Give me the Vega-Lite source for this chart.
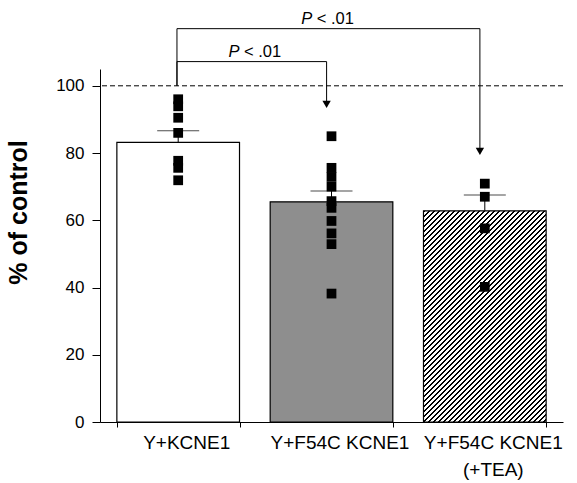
{
 "$schema": "https://vega.github.io/schema/vega-lite/v6.json",
 "width": 463,
 "height": 353,
 "autosize": {"type": "none"},
 "padding": {"left": 100, "top": 69, "right": 14, "bottom": 61},
 "background": "white",
 "config": {
  "view": {"stroke": null},
  "font": "Liberation Sans",
  "axis": {"grid": false, "domainColor": "black", "tickColor": "black", "labelColor": "black", "titleColor": "black", "labelFont": "Liberation Sans", "titleFont": "Liberation Sans", "domainWidth": 1, "tickWidth": 1}
 },
 "datasets": {
  "bars": [
   {"group": "Y+KCNE1", "mean": 83.2, "upper": 86.6},
   {"group": "Y+F54C KCNE1", "mean": 65.5, "upper": 68.7},
   {"group": "Y+F54C KCNE1 (+TEA)", "mean": 62.8, "upper": 67.5}
  ],
  "points": [
   {"group": "Y+KCNE1", "value": 96.0},
   {"group": "Y+KCNE1", "value": 93.9},
   {"group": "Y+KCNE1", "value": 90.5},
   {"group": "Y+KCNE1", "value": 86.0},
   {"group": "Y+KCNE1", "value": 77.7},
   {"group": "Y+KCNE1", "value": 75.6},
   {"group": "Y+KCNE1", "value": 71.9},
   {"group": "Y+F54C KCNE1", "value": 85.0},
   {"group": "Y+F54C KCNE1", "value": 75.6},
   {"group": "Y+F54C KCNE1", "value": 72.9},
   {"group": "Y+F54C KCNE1", "value": 70.0},
   {"group": "Y+F54C KCNE1", "value": 65.7},
   {"group": "Y+F54C KCNE1", "value": 63.7},
   {"group": "Y+F54C KCNE1", "value": 59.8},
   {"group": "Y+F54C KCNE1", "value": 56.1},
   {"group": "Y+F54C KCNE1", "value": 52.9},
   {"group": "Y+F54C KCNE1", "value": 38.2},
   {"group": "Y+F54C KCNE1 (+TEA)", "value": 70.9},
   {"group": "Y+F54C KCNE1 (+TEA)", "value": 67.0},
   {"group": "Y+F54C KCNE1 (+TEA)", "value": 57.6},
   {"group": "Y+F54C KCNE1 (+TEA)", "value": 40.2}
  ],
  "brackets": [
   {"id": 1, "from": "Y+KCNE1", "to": "Y+F54C KCNE1", "base": 100, "level": 107.2, "tip": 94.5, "label": "< .01"},
   {"id": 2, "from": "Y+KCNE1", "to": "Y+F54C KCNE1 (+TEA)", "base": 100, "level": 117.0, "tip": 80.5, "label": "< .01"}
  ],
  "control": [{"level": 100}]
 },
 "layer": [
  {
   "data": {"name": "bars"},
   "mark": {"type": "bar", "stroke": "black", "strokeWidth": 1.2},
   "encoding": {
    "x": {
     "field": "group", "type": "nominal",
     "scale": {"domain": ["Y+KCNE1", "Y+F54C KCNE1", "Y+F54C KCNE1 (+TEA)"], "paddingInner": 0.2, "paddingOuter": 0.11},
     "axis": {
      "title": null, "tickBand": "extent", "tickSize": 5, "labelFontSize": 19, "labelPadding": 6, "labelAngle": 0,
      "labelLineHeight": 27, "labelOverlap": false, "labelLimit": 300, "labelOffset": 8,
      "labelExpr": "datum.value === 'Y+F54C KCNE1 (+TEA)' ? ['Y+F54C KCNE1', '(+TEA)'] : datum.label"
     }
    },
    "y": {
     "field": "mean", "type": "quantitative",
     "scale": {"domain": [0, 105], "nice": false},
     "axis": {
      "title": "% of control", "values": [0, 10, 20, 30, 40, 50, 60, 70, 80, 90, 100],
      "labelExpr": "datum.value % 20 === 0 ? datum.label : ''",
      "tickSize": {"condition": {"test": "datum.value % 20 === 0", "value": 8}, "value": 4},
      "labelFontSize": 17, "labelPadding": 8,
      "titleFontSize": 25, "titleFontWeight": "bold", "titleAngle": -90,
      "titleX": -74, "titleY": 143, "titleAlign": "center", "titleBaseline": "alphabetic"
     }
    },
    "fill": {
     "condition": {
      "test": "datum.group === 'Y+F54C KCNE1 (+TEA)'",
      "value": {"gradient": "linear", "x1": 0, "y1": 0, "x2": 0.687, "y2": 1.182, "stops": [
{"offset":0,"color":"#000"},{"offset":0.005,"color":"#000"},{"offset":0.005,"color":"#fff"},{"offset":0.015,"color":"#fff"},
{"offset":0.015,"color":"#000"},{"offset":0.02,"color":"#000"},{"offset":0.02,"color":"#fff"},{"offset":0.03,"color":"#fff"},
{"offset":0.03,"color":"#000"},{"offset":0.035,"color":"#000"},{"offset":0.035,"color":"#fff"},{"offset":0.045,"color":"#fff"},
{"offset":0.045,"color":"#000"},{"offset":0.05,"color":"#000"},{"offset":0.05,"color":"#fff"},{"offset":0.06,"color":"#fff"},
{"offset":0.06,"color":"#000"},{"offset":0.065,"color":"#000"},{"offset":0.065,"color":"#fff"},{"offset":0.075,"color":"#fff"},
{"offset":0.075,"color":"#000"},{"offset":0.08,"color":"#000"},{"offset":0.08,"color":"#fff"},{"offset":0.09,"color":"#fff"},
{"offset":0.09,"color":"#000"},{"offset":0.095,"color":"#000"},{"offset":0.095,"color":"#fff"},{"offset":0.105,"color":"#fff"},
{"offset":0.105,"color":"#000"},{"offset":0.11,"color":"#000"},{"offset":0.11,"color":"#fff"},{"offset":0.12,"color":"#fff"},
{"offset":0.12,"color":"#000"},{"offset":0.125,"color":"#000"},{"offset":0.125,"color":"#fff"},{"offset":0.135,"color":"#fff"},
{"offset":0.135,"color":"#000"},{"offset":0.14,"color":"#000"},{"offset":0.14,"color":"#fff"},{"offset":0.15,"color":"#fff"},
{"offset":0.15,"color":"#000"},{"offset":0.155,"color":"#000"},{"offset":0.155,"color":"#fff"},{"offset":0.165,"color":"#fff"},
{"offset":0.165,"color":"#000"},{"offset":0.17,"color":"#000"},{"offset":0.17,"color":"#fff"},{"offset":0.18,"color":"#fff"},
{"offset":0.18,"color":"#000"},{"offset":0.185,"color":"#000"},{"offset":0.185,"color":"#fff"},{"offset":0.195,"color":"#fff"},
{"offset":0.195,"color":"#000"},{"offset":0.2,"color":"#000"},{"offset":0.2,"color":"#fff"},{"offset":0.21,"color":"#fff"},
{"offset":0.21,"color":"#000"},{"offset":0.215,"color":"#000"},{"offset":0.215,"color":"#fff"},{"offset":0.225,"color":"#fff"},
{"offset":0.225,"color":"#000"},{"offset":0.23,"color":"#000"},{"offset":0.23,"color":"#fff"},{"offset":0.24,"color":"#fff"},
{"offset":0.24,"color":"#000"},{"offset":0.245,"color":"#000"},{"offset":0.245,"color":"#fff"},{"offset":0.255,"color":"#fff"},
{"offset":0.255,"color":"#000"},{"offset":0.26,"color":"#000"},{"offset":0.26,"color":"#fff"},{"offset":0.27,"color":"#fff"},
{"offset":0.27,"color":"#000"},{"offset":0.275,"color":"#000"},{"offset":0.275,"color":"#fff"},{"offset":0.285,"color":"#fff"},
{"offset":0.285,"color":"#000"},{"offset":0.29,"color":"#000"},{"offset":0.29,"color":"#fff"},{"offset":0.3,"color":"#fff"},
{"offset":0.3,"color":"#000"},{"offset":0.305,"color":"#000"},{"offset":0.305,"color":"#fff"},{"offset":0.315,"color":"#fff"},
{"offset":0.315,"color":"#000"},{"offset":0.32,"color":"#000"},{"offset":0.32,"color":"#fff"},{"offset":0.33,"color":"#fff"},
{"offset":0.33,"color":"#000"},{"offset":0.335,"color":"#000"},{"offset":0.335,"color":"#fff"},{"offset":0.345,"color":"#fff"},
{"offset":0.345,"color":"#000"},{"offset":0.35,"color":"#000"},{"offset":0.35,"color":"#fff"},{"offset":0.36,"color":"#fff"},
{"offset":0.36,"color":"#000"},{"offset":0.365,"color":"#000"},{"offset":0.365,"color":"#fff"},{"offset":0.375,"color":"#fff"},
{"offset":0.375,"color":"#000"},{"offset":0.38,"color":"#000"},{"offset":0.38,"color":"#fff"},{"offset":0.39,"color":"#fff"},
{"offset":0.39,"color":"#000"},{"offset":0.395,"color":"#000"},{"offset":0.395,"color":"#fff"},{"offset":0.405,"color":"#fff"},
{"offset":0.405,"color":"#000"},{"offset":0.41,"color":"#000"},{"offset":0.41,"color":"#fff"},{"offset":0.42,"color":"#fff"},
{"offset":0.42,"color":"#000"},{"offset":0.425,"color":"#000"},{"offset":0.425,"color":"#fff"},{"offset":0.435,"color":"#fff"},
{"offset":0.435,"color":"#000"},{"offset":0.44,"color":"#000"},{"offset":0.44,"color":"#fff"},{"offset":0.45,"color":"#fff"},
{"offset":0.45,"color":"#000"},{"offset":0.455,"color":"#000"},{"offset":0.455,"color":"#fff"},{"offset":0.465,"color":"#fff"},
{"offset":0.465,"color":"#000"},{"offset":0.47,"color":"#000"},{"offset":0.47,"color":"#fff"},{"offset":0.48,"color":"#fff"},
{"offset":0.48,"color":"#000"},{"offset":0.485,"color":"#000"},{"offset":0.485,"color":"#fff"},{"offset":0.495,"color":"#fff"},
{"offset":0.495,"color":"#000"},{"offset":0.5,"color":"#000"},{"offset":0.5,"color":"#fff"},{"offset":0.51,"color":"#fff"},
{"offset":0.51,"color":"#000"},{"offset":0.515,"color":"#000"},{"offset":0.515,"color":"#fff"},{"offset":0.525,"color":"#fff"},
{"offset":0.525,"color":"#000"},{"offset":0.53,"color":"#000"},{"offset":0.53,"color":"#fff"},{"offset":0.54,"color":"#fff"},
{"offset":0.54,"color":"#000"},{"offset":0.545,"color":"#000"},{"offset":0.545,"color":"#fff"},{"offset":0.555,"color":"#fff"},
{"offset":0.555,"color":"#000"},{"offset":0.56,"color":"#000"},{"offset":0.56,"color":"#fff"},{"offset":0.57,"color":"#fff"},
{"offset":0.57,"color":"#000"},{"offset":0.575,"color":"#000"},{"offset":0.575,"color":"#fff"},{"offset":0.585,"color":"#fff"},
{"offset":0.585,"color":"#000"},{"offset":0.59,"color":"#000"},{"offset":0.59,"color":"#fff"},{"offset":0.6,"color":"#fff"},
{"offset":0.6,"color":"#000"},{"offset":0.605,"color":"#000"},{"offset":0.605,"color":"#fff"},{"offset":0.615,"color":"#fff"},
{"offset":0.615,"color":"#000"},{"offset":0.62,"color":"#000"},{"offset":0.62,"color":"#fff"},{"offset":0.63,"color":"#fff"},
{"offset":0.63,"color":"#000"},{"offset":0.635,"color":"#000"},{"offset":0.635,"color":"#fff"},{"offset":0.645,"color":"#fff"},
{"offset":0.645,"color":"#000"},{"offset":0.65,"color":"#000"},{"offset":0.65,"color":"#fff"},{"offset":0.66,"color":"#fff"},
{"offset":0.66,"color":"#000"},{"offset":0.665,"color":"#000"},{"offset":0.665,"color":"#fff"},{"offset":0.675,"color":"#fff"},
{"offset":0.675,"color":"#000"},{"offset":0.68,"color":"#000"},{"offset":0.68,"color":"#fff"},{"offset":0.69,"color":"#fff"},
{"offset":0.69,"color":"#000"},{"offset":0.695,"color":"#000"},{"offset":0.695,"color":"#fff"},{"offset":0.705,"color":"#fff"},
{"offset":0.705,"color":"#000"},{"offset":0.71,"color":"#000"},{"offset":0.71,"color":"#fff"},{"offset":0.72,"color":"#fff"},
{"offset":0.72,"color":"#000"},{"offset":0.725,"color":"#000"},{"offset":0.725,"color":"#fff"},{"offset":0.735,"color":"#fff"},
{"offset":0.735,"color":"#000"},{"offset":0.74,"color":"#000"},{"offset":0.74,"color":"#fff"},{"offset":0.75,"color":"#fff"},
{"offset":0.75,"color":"#000"},{"offset":0.755,"color":"#000"},{"offset":0.755,"color":"#fff"},{"offset":0.765,"color":"#fff"},
{"offset":0.765,"color":"#000"},{"offset":0.77,"color":"#000"},{"offset":0.77,"color":"#fff"},{"offset":0.78,"color":"#fff"},
{"offset":0.78,"color":"#000"},{"offset":0.785,"color":"#000"},{"offset":0.785,"color":"#fff"},{"offset":0.795,"color":"#fff"},
{"offset":0.795,"color":"#000"},{"offset":0.8,"color":"#000"},{"offset":0.8,"color":"#fff"},{"offset":0.81,"color":"#fff"},
{"offset":0.81,"color":"#000"},{"offset":0.815,"color":"#000"},{"offset":0.815,"color":"#fff"},{"offset":0.825,"color":"#fff"},
{"offset":0.825,"color":"#000"},{"offset":0.83,"color":"#000"},{"offset":0.83,"color":"#fff"},{"offset":0.84,"color":"#fff"},
{"offset":0.84,"color":"#000"},{"offset":0.845,"color":"#000"},{"offset":0.845,"color":"#fff"},{"offset":0.855,"color":"#fff"},
{"offset":0.855,"color":"#000"},{"offset":0.86,"color":"#000"},{"offset":0.86,"color":"#fff"},{"offset":0.87,"color":"#fff"},
{"offset":0.87,"color":"#000"},{"offset":0.875,"color":"#000"},{"offset":0.875,"color":"#fff"},{"offset":0.885,"color":"#fff"},
{"offset":0.885,"color":"#000"},{"offset":0.89,"color":"#000"},{"offset":0.89,"color":"#fff"},{"offset":0.9,"color":"#fff"},
{"offset":0.9,"color":"#000"},{"offset":0.905,"color":"#000"},{"offset":0.905,"color":"#fff"},{"offset":0.915,"color":"#fff"},
{"offset":0.915,"color":"#000"},{"offset":0.92,"color":"#000"},{"offset":0.92,"color":"#fff"},{"offset":0.93,"color":"#fff"},
{"offset":0.93,"color":"#000"},{"offset":0.935,"color":"#000"},{"offset":0.935,"color":"#fff"},{"offset":0.945,"color":"#fff"},
{"offset":0.945,"color":"#000"},{"offset":0.95,"color":"#000"},{"offset":0.95,"color":"#fff"},{"offset":0.96,"color":"#fff"},
{"offset":0.96,"color":"#000"},{"offset":0.965,"color":"#000"},{"offset":0.965,"color":"#fff"},{"offset":0.975,"color":"#fff"},
{"offset":0.975,"color":"#000"},{"offset":0.98,"color":"#000"},{"offset":0.98,"color":"#fff"},{"offset":0.99,"color":"#fff"},
{"offset":0.99,"color":"#000"},{"offset":0.995,"color":"#000"},{"offset":0.995,"color":"#fff"},{"offset":1,"color":"#fff"}
      ]}
     },
     "field": "group", "type": "nominal",
     "scale": {"domain": ["Y+KCNE1", "Y+F54C KCNE1", "Y+F54C KCNE1 (+TEA)"], "range": ["#ffffff", "#8e8e8e", "#ffffff"]},
     "legend": null
    }
   }
  },
  {
   "data": {"name": "control"},
   "mark": {"type": "rule", "strokeDash": [5, 3], "color": "black", "strokeWidth": 1},
   "encoding": {"y": {"field": "level", "type": "quantitative"}}
  },
  {
   "data": {"name": "bars"},
   "mark": {"type": "rule", "color": "black", "strokeWidth": 1},
   "encoding": {
    "x": {"field": "group", "type": "nominal"},
    "y": {"field": "mean", "type": "quantitative"},
    "y2": {"field": "upper"}
   }
  },
  {
   "data": {"name": "bars"},
   "mark": {"type": "tick", "color": "black", "size": 42, "thickness": 1, "orient": "horizontal"},
   "encoding": {
    "x": {"field": "group", "type": "nominal"},
    "y": {"field": "upper", "type": "quantitative"}
   }
  },
  {
   "data": {"name": "points"},
   "mark": {"type": "square", "color": "black", "size": 95, "opacity": 1},
   "encoding": {
    "x": {"field": "group", "type": "nominal"},
    "y": {"field": "value", "type": "quantitative"}
   }
  },
  {
   "data": {"name": "brackets"},
   "mark": {"type": "rule", "color": "black", "strokeWidth": 1},
   "encoding": {
    "x": {"field": "from", "type": "nominal", "bandPosition": 0.49},
    "y": {"field": "base", "type": "quantitative"},
    "y2": {"field": "level"}
   }
  },
  {
   "data": {"name": "brackets"},
   "mark": {"type": "rule", "color": "black", "strokeWidth": 1},
   "encoding": {
    "x": {"field": "from", "type": "nominal", "bandPosition": 0.49},
    "x2": {"field": "to", "bandPosition": 0.46},
    "y": {"field": "level", "type": "quantitative"}
   }
  },
  {
   "data": {"name": "brackets"},
   "mark": {"type": "rule", "color": "black", "strokeWidth": 1},
   "encoding": {
    "x": {"field": "to", "type": "nominal", "bandPosition": 0.46},
    "y": {"field": "level", "type": "quantitative"},
    "y2": {"field": "tip"}
   }
  },
  {
   "data": {"name": "brackets"},
   "mark": {"type": "point", "shape": "triangle-down", "filled": true, "color": "black", "size": 70, "opacity": 1},
   "encoding": {
    "x": {"field": "to", "type": "nominal", "bandPosition": 0.46},
    "y": {"field": "tip", "type": "quantitative"}
   }
  },
  {
   "data": {"name": "brackets"},
   "transform": [{"filter": "datum.id === 1"}],
   "mark": {"type": "text", "text": "P", "fontStyle": "italic", "fontSize": 16.5, "align": "right", "baseline": "alphabetic", "dx": -15.4, "dy": -5, "color": "black"},
   "encoding": {
    "x": {"field": "from", "type": "nominal", "bandPosition": 1.125},
    "y": {"field": "level", "type": "quantitative"}
   }
  },
  {
   "data": {"name": "brackets"},
   "transform": [{"filter": "datum.id === 1"}],
   "mark": {"type": "text", "fontSize": 16.5, "align": "left", "baseline": "alphabetic", "dx": -10.8, "dy": -5, "color": "black"},
   "encoding": {
    "text": {"field": "label"},
    "x": {"field": "from", "type": "nominal", "bandPosition": 1.125},
    "y": {"field": "level", "type": "quantitative"}
   }
  },
  {
   "data": {"name": "brackets"},
   "transform": [{"filter": "datum.id === 2"}],
   "mark": {"type": "text", "text": "P", "fontStyle": "italic", "fontSize": 16.5, "align": "right", "baseline": "alphabetic", "dx": -15.4, "dy": -5, "color": "black"},
   "encoding": {
    "x": {"field": "from", "type": "nominal", "bandPosition": 1.718},
    "y": {"field": "level", "type": "quantitative"}
   }
  },
  {
   "data": {"name": "brackets"},
   "transform": [{"filter": "datum.id === 2"}],
   "mark": {"type": "text", "fontSize": 16.5, "align": "left", "baseline": "alphabetic", "dx": -10.8, "dy": -5, "color": "black"},
   "encoding": {
    "text": {"field": "label"},
    "x": {"field": "from", "type": "nominal", "bandPosition": 1.718},
    "y": {"field": "level", "type": "quantitative"}
   }
  }
 ]
}
